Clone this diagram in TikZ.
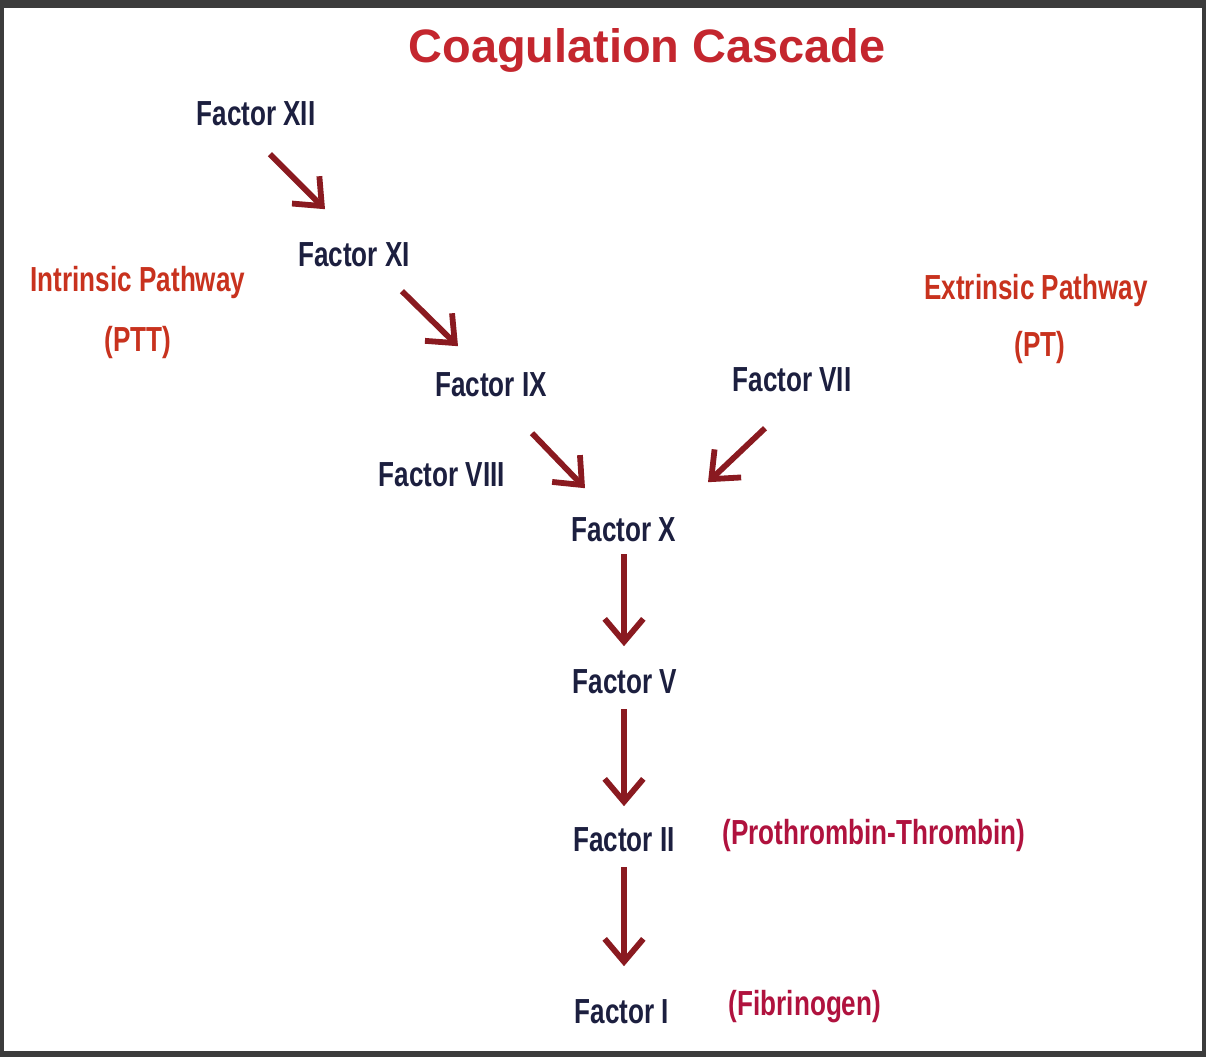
\documentclass[tikz,border=0pt]{standalone}
\usepackage{fontspec}
\setmainfont{Liberation Sans}
\newfontfamily\narrowsans{Liberation Sans}[FakeStretch=0.75]
\usetikzlibrary{arrows.meta,calc}
\definecolor{framegrey}{HTML}{3C3C3C}
\definecolor{titlered}{HTML}{C4262E}
\definecolor{factorblue}{HTML}{1C1F3F}
\definecolor{pathred}{HTML}{C8321E}
\definecolor{notered}{HTML}{B0123E}
\definecolor{arrowred}{HTML}{8A1A20}

\begin{document}
\begin{tikzpicture}[x=0.02cm,y=-0.02cm,
  factor/.style={anchor=base,inner sep=0pt,text=factorblue,font=\narrowsans\bfseries\fontsize{19.8}{22}\selectfont},
  pathlabel/.style={factor,text=pathred},
  note/.style={factor,text=notered},
  flow/.style={draw=arrowred,line width=3.3pt,-{Straight Barb[length=13pt,width=22pt]}}]
  \fill[framegrey] (0,0) rectangle (1206,1057);
  \fill[white] (4,8) rectangle (1202,1051);
  \node[anchor=base,inner sep=0pt,text=titlered,font=\bfseries\fontsize{26.7}{30}\selectfont] (title) at (647,63) {Coagulation Cascade};

  \node[factor] (xii) at (256,126) {Factor XII};
  \node[factor] (xi) at (354,267) {Factor XI};
  \node[factor] (ix) at (491,396) {Factor IX};
  \node[factor] (vii) at (792,391) {Factor VII};
  \node[factor] (viii) at (442,486) {Factor VIII};
  \node[factor] (x) at (624,541) {Factor X};
  \node[factor] (v) at (625,693) {Factor V};
  \node[factor] (ii) at (624,851) {Factor II};
  \node[factor] (i) at (622,1023) {Factor I};

  \node[pathlabel] (intr) at (138,292) {Intrinsic Pathway};
  \node[pathlabel] (ptt) at (138,351) {(PTT)};
  \node[pathlabel] (extr) at (1036,299) {Extrinsic Pathway};
  \node[pathlabel] (pt) at (1040,357) {(PT)};
  \node[note] (thrombin) at (874,844) {(Prothrombin-Thrombin)};
  \node[note] (fibrinogen) at (805,1015) {(Fibrinogen)};

  \draw[flow] ($(xii)+(14,40)$) -- ($(xi)+(-29,-46)$);
  \draw[flow] ($(xi)+(48,36)$) -- ($(ix)+(-33,-38)$);
  \draw[flow] ($(ix)+(41,49)$) -- ($(x)+(-39,-41)$);
  \draw[flow] ($(vii)+(-27,49)$) -- ($(x)+(84,-47)$);
  \draw[flow] ($(x)+(0,25)$) -- ($(v)+(-1,-35)$);
  \draw[flow] ($(v)+(-1,28)$) -- ($(ii)+(0,-33)$);
  \draw[flow] ($(ii)+(0,28)$) -- ($(i)+(2,-45)$);
\end{tikzpicture}
\end{document}
